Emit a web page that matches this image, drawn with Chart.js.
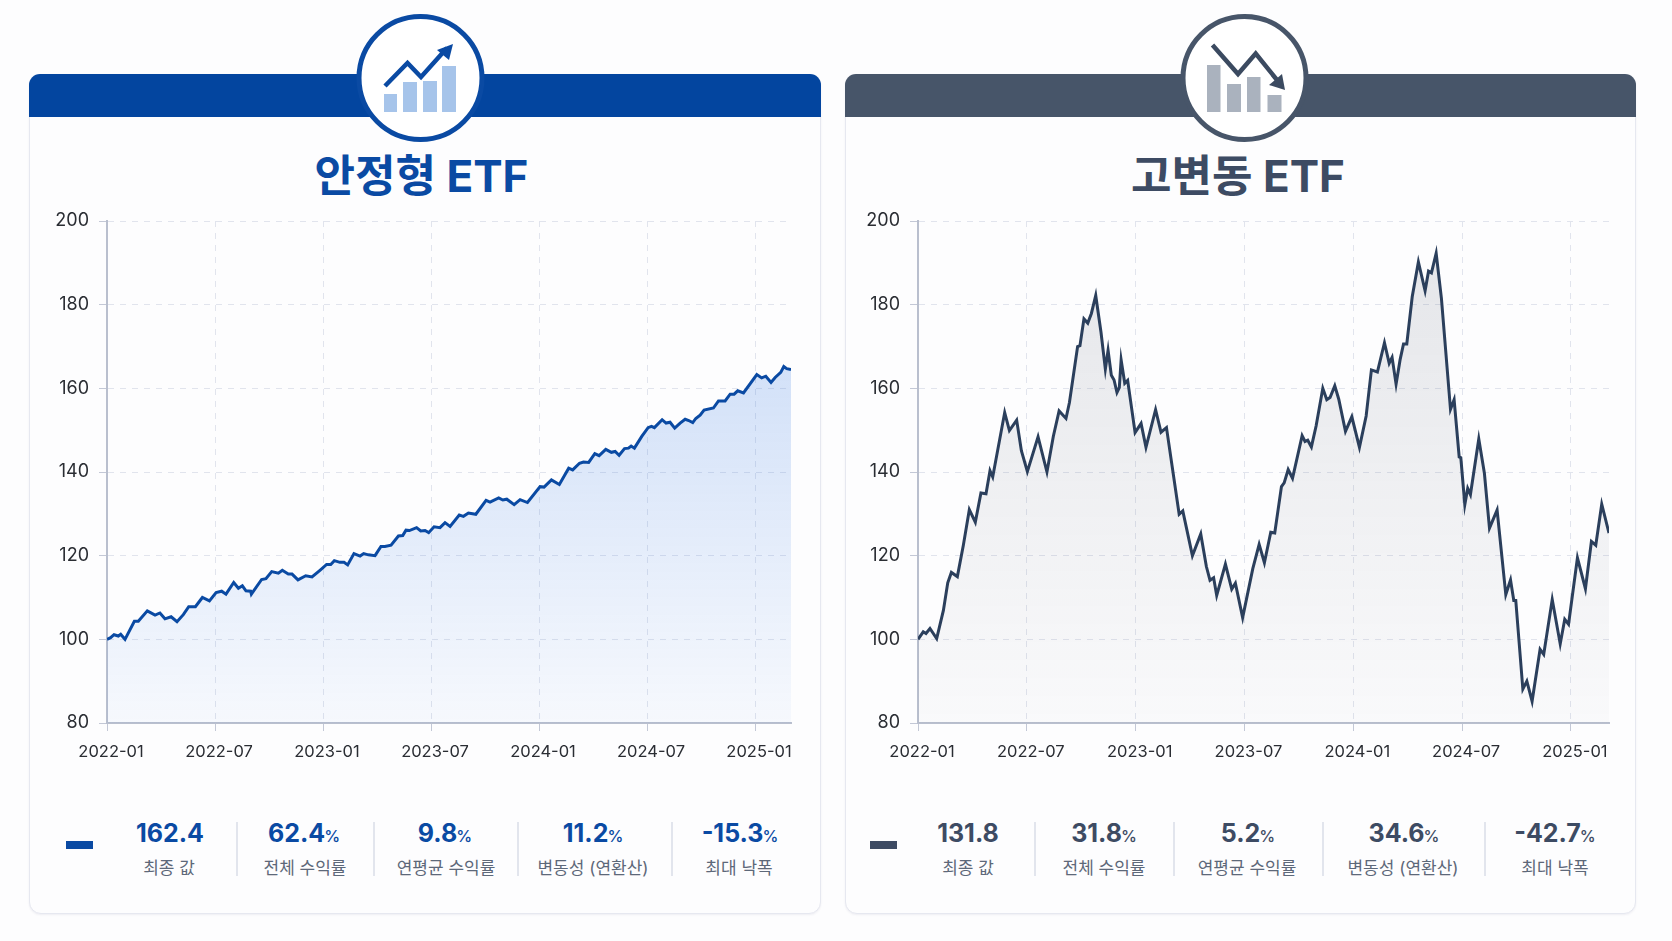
<!DOCTYPE html>
<html lang="ko">
  <head>
    <meta charset="UTF-8" />
    <title>안정형 ETF vs 고변동 ETF</title>
    <script src="https://cdn.jsdelivr.net/npm/chart.js@4/dist/chart.umd.min.js"></script>
    <style>
      html, body { margin: 0; padding: 0; background: #fdfdfe; }
      body { width: 1672px; height: 941px; position: relative; overflow: hidden; font-family: Inter, "Noto Sans CJK KR", sans-serif; }
      .card { position: absolute; top: 74px; height: 840px; box-sizing: border-box; background: #fdfdfe; border: 1.5px solid #e6e8f0; border-radius: 12px; box-shadow: 0 1px 2px rgba(60, 70, 110, 0.08); }
      .band { position: absolute; top: 74px; height: 43px; border-radius: 11px 11px 0 0; }
      .title { position: absolute; top: 148px; width: 500px; text-align: center; font-size: 44px; font-weight: 700; line-height: 56px; }
      .holder { position: absolute; top: 200px; width: 790px; height: 560px; }
      .val { position: absolute; top: 817px; width: 130px; text-align: center; font-size: 25px; font-weight: 700; line-height: 32px; white-space: nowrap; }
      .val small { font-size: 16px; font-weight: 500; margin-left: -1px; }
      .lab { position: absolute; top: 856px; width: 150px; text-align: center; font-size: 17px; line-height: 24px; color: #5d6879; white-space: nowrap; }
      .sep { position: absolute; top: 822px; height: 54px; width: 1.5px; background: #e2e5ed; }
      .swatch { position: absolute; top: 841px; height: 8px; width: 27px; }
      svg { position: absolute; left: 0; top: 0; }
    </style>
  </head>
  <body>
    <div class="card" style="left: 29px; width: 792px"></div>
    <div class="card" style="left: 845px; width: 791px"></div>
    <div class="band" style="left: 29px; width: 792px; background: #03459f"></div>
    <div class="band" style="left: 845px; width: 791px; background: #475569"></div>

    <svg width="1672" height="160">
      <circle cx="420.5" cy="78" r="61.5" fill="#fff" stroke="#0a4aa3" stroke-width="5" />
      <g fill="#a6c4ea">
        <rect x="384" y="94" width="13" height="18" />
        <rect x="403" y="82" width="14" height="30" />
        <rect x="423" y="81" width="14" height="31" />
        <rect x="442" y="66" width="14" height="46" />
      </g>
      <polyline points="385,86 407.5,63 421,77 447,48" fill="none" stroke="#0a4aa3" stroke-width="4.5" />
      <polygon points="453,44 449,60 437,50" fill="#0a4aa3" />

      <circle cx="1244.5" cy="78" r="61.5" fill="#fff" stroke="#475569" stroke-width="5" />
      <g fill="#aab2be">
        <rect x="1207" y="65" width="13.5" height="47" />
        <rect x="1227" y="84" width="14" height="28" />
        <rect x="1247" y="77" width="13.5" height="35" />
        <rect x="1267.5" y="95" width="14" height="17" />
      </g>
      <polyline points="1212.5,45 1238,74 1255.7,53.5 1277,80" fill="none" stroke="#3b4a60" stroke-width="4.5" />
      <polygon points="1285,90 1269,85 1282,74" fill="#3b4a60" />
    </svg>

    <div class="title" style="left: 171.5px; color: #0a4aa3">안정형 ETF</div>
    <div class="title" style="left: 988px; color: #3d4b63">고변동 ETF</div>

    <div class="holder" style="left: 30px"><canvas id="stableChart"></canvas></div>
    <div class="holder" style="left: 846px"><canvas id="volatileChart"></canvas></div>

    <script>
      // x values are months since 2022-01
      const tickMonths = [0, 6, 12, 18, 24, 30, 36];
      const tickLabels = ["2022-01", "2022-07", "2023-01", "2023-07", "2024-01", "2024-07", "2025-01"];
      const yTicks = [80, 100, 120, 140, 160, 180, 200];

      const stableMonths = [
        0, 0.2, 0.39, 0.63, 0.76, 1, 1.52, 1.74, 2.24, 2.67, 2.94, 3.22, 3.56, 3.89, 4.24, 4.54, 4.91, 5.3, 5.69, 6.06,
        6.37, 6.61, 7.04, 7.3, 7.52, 7.72, 7.98, 8.02, 8.59, 8.83, 9.15, 9.52, 9.74, 10.07, 10.28, 10.61, 11.04, 11.39, 11.83, 12.2,
        12.43, 12.63, 12.94, 13.17, 13.37, 13.72, 14.06, 14.26, 14.52, 14.89, 15.22, 15.44, 15.78, 16.19, 16.43, 16.61, 16.8, 17.2, 17.43, 17.67,
        17.87, 18.17, 18.5, 18.78, 19.06, 19.57, 19.8, 20.08, 20.49, 21.06, 21.28, 21.76, 21.99, 22.21, 22.62, 22.95, 23.36, 24.06, 24.28, 24.69,
        25.13, 25.65, 25.87, 26.25, 26.47, 26.76, 27.1, 27.34, 27.71, 28.02, 28.23, 28.45, 28.75, 28.97, 29.12, 29.3, 29.71, 30.06, 30.25, 30.41,
        30.84, 31.06, 31.28, 31.54, 31.84, 32.12, 32.32, 32.54, 32.71, 32.95, 33.17, 33.69, 33.97, 34.34, 34.62, 34.84, 35.04, 35.36, 36.1, 36.37,
        36.6, 36.89, 37.12, 37.43, 37.6, 37.76, 38
      ];
      const stableValues = [
        100, 100.4, 101.1, 100.8, 101.2, 100, 104.3, 104.3, 106.8, 105.8, 106.3, 104.9, 105.4, 104.2, 105.9, 107.8, 107.8, 110, 109.2, 111.2,
        111.5, 110.8, 113.6, 112.2, 112.8, 111.6, 111.5, 110.8, 114.3, 114.5, 116.2, 115.8, 116.5, 115.6, 115.6, 114.2, 115.2, 114.9, 116.5, 117.9,
        117.9, 118.8, 118.4, 118.4, 117.8, 120.5, 119.9, 120.5, 120.2, 120, 122.2, 122.2, 122.5, 124.7, 124.8, 126.1, 126, 126.7, 125.9, 126,
        125.5, 126.9, 126.7, 127.9, 127, 129.7, 129.4, 130.2, 129.9, 133.2, 132.8, 133.8, 133.3, 133.5, 132.2, 133.4, 132.7, 136.5, 136.4, 138.1,
        137, 140.9, 140.5, 142.1, 142.4, 142.3, 144.4, 143.9, 145.4, 144.7, 144.9, 144, 145.6, 145.7, 146.2, 145.7, 148.5, 150.6, 150.9, 150.6,
        152.5, 151.7, 151.9, 150.5, 151.7, 152.6, 152.3, 151.8, 152.8, 153.6, 154.8, 155.3, 157, 157, 158.6, 158.6, 159.4, 158.9, 163.3, 162.5,
        162.9, 161.4, 162.6, 163.8, 165.2, 164.7, 164.5
      ];

      const volatileMonths = [
        0, 0.29, 0.44, 0.66, 1.03, 1.4, 1.64, 1.84, 2.17, 2.5, 2.83, 3.16, 3.47, 3.75, 3.97, 4.12, 4.78, 5.04, 5.44, 5.7,
        6.03, 6.62, 7.11, 7.46, 7.78, 8.16, 8.35, 8.8, 8.93, 9.15, 9.36, 9.56, 9.8, 10.09, 10.33, 10.48, 10.66, 10.81, 10.97, 11.1,
        11.2, 11.4, 11.56, 11.97, 12.3, 12.57, 13.1, 13.4, 13.7, 14.4, 14.6, 15.13, 15.59, 15.9, 16.1, 16.3, 16.47, 16.95, 17.3, 17.5,
        17.9, 18.46, 18.81, 19.1, 19.45, 19.67, 20.04, 20.19, 20.41, 20.65, 21.18, 21.34, 21.49, 21.69, 21.95, 22.32, 22.54, 22.72, 22.98, 23.2,
        23.57, 23.92, 24.34, 24.71, 25, 25.33, 25.72, 25.98, 26.14, 26.36, 26.58, 26.77, 26.95, 27.25, 27.59, 27.96, 28.15, 28.31, 28.57, 28.86,
        29.36, 29.56, 29.84, 29.93, 30.15, 30.31, 30.46, 30.92, 31.23, 31.51, 31.93, 32.41, 32.67, 32.85, 32.96, 33.35, 33.57, 33.86, 34.3, 34.5,
        34.97, 35.41, 35.66, 35.87, 36.36, 36.8, 37.13, 37.37, 37.7, 38.1
      ];
      const volatileValues = [
        100, 101.8, 101.4, 102.6, 100.2, 106.9, 113.5, 116, 115, 122.5, 131, 128, 135, 134.8, 140.3, 138.8, 154.2, 149.9, 152.4, 145.1,
        140.1, 148.4, 140, 148.5, 154.6, 152.8, 156.6, 170, 170.2, 176.6, 175.6, 177.9, 182.2, 173.4, 164.6, 169.1, 163.1, 162, 159, 160.2,
        166.8, 161.2, 161.9, 149.4, 151.6, 145.9, 154.9, 149.5, 150.6, 129.9, 130.7, 120, 125.2, 117.4, 114.1, 114.7, 110.5, 118, 112, 113.4,
        105.2, 116.9, 122.7, 118.3, 125.6, 125.4, 136.5, 137.4, 140.6, 138.5, 148.7, 147.3, 147.6, 146, 151, 160, 157.3, 157.8, 160.6, 157.4,
        149.7, 153.2, 145.9, 153.4, 164.4, 163.9, 170.9, 166, 167.4, 161, 166.8, 170.6, 170.6, 181.9, 190.2, 183.3, 188, 187.6, 192.3, 181.5,
        155, 157.3, 143.6, 143.4, 132.2, 136.1, 134.6, 147.9, 139.7, 126.6, 130.9, 110.7, 114.2, 109.3, 109.3, 88.1, 90, 85.2, 97.6, 96.4,
        109.5, 98.9, 104.8, 103.6, 119.5, 112.1, 123.4, 122.5, 132.3, 125.4
      ];

      const statNumbers = ["162.4", "62.4", "9.8", "11.2", "-15.3"];
      const statNumbers2 = ["131.8", "31.8", "5.2", "34.6", "-42.7"];
      const statUnits = ["", "%", "%", "%", "%"];
      const statLabels = ["최종 값", "전체 수익률", "연평균 수익률", "변동성 (연환산)", "최대 낙폭"];

      function addStats(numbers, centers, labelCenters, seps, swatchLeft, color) {
        numbers.forEach((num, i) => {
          const val = document.createElement("div");
          val.className = "val";
          val.style.left = centers[i] - 65 + "px";
          val.style.color = color;
          val.innerHTML = num + (statUnits[i] ? "<small>" + statUnits[i] + "</small>" : "");
          document.body.appendChild(val);

          const lab = document.createElement("div");
          lab.className = "lab";
          lab.style.left = labelCenters[i] - 75 + "px";
          lab.textContent = statLabels[i];
          document.body.appendChild(lab);
        });
        seps.forEach((x) => {
          const sep = document.createElement("div");
          sep.className = "sep";
          sep.style.left = x + "px";
          document.body.appendChild(sep);
        });
        const sw = document.createElement("div");
        sw.className = "swatch";
        sw.style.left = swatchLeft + "px";
        sw.style.background = color;
        document.body.appendChild(sw);
      }

      addStats(statNumbers, [170, 304, 445, 593, 740], [169, 305, 446, 593, 739], [236, 373, 517, 671], 66, "#0a4aa3");
      addStats(statNumbers2, [968, 1104, 1248, 1404, 1555], [968, 1104, 1247, 1403, 1555], [1034, 1173, 1322, 1484], 870, "#3d4b63");

      function fillFor(topColor, bottomColor) {
        return (context) => {
          const area = context.chart.chartArea;
          if (!area) return topColor;
          const g = context.chart.ctx.createLinearGradient(0, area.top, 0, area.bottom);
          g.addColorStop(0, topColor);
          g.addColorStop(1, bottomColor);
          return g;
        };
      }

      function makeChart(id, months, values, xMax, lineColor, topColor, bottomColor, rightPad, yWidth) {
        const ctx = document.getElementById(id).getContext("2d");
        return new Chart(ctx, {
          type: "line",
          data: {
            datasets: [
              {
                data: months.map((m, i) => ({ x: m, y: values[i] })),
                borderColor: lineColor,
                borderWidth: 3,
                pointRadius: 0,
                tension: 0,
                fill: "start",
                backgroundColor: fillFor(topColor, bottomColor),
              },
            ],
          },
          options: {
            responsive: true,
            maintainAspectRatio: false,
            animation: false,
            layout: { padding: { top: 21, right: rightPad, left: 0, bottom: 0 } },
            plugins: { legend: { display: false }, tooltip: { enabled: false } },
            scales: {
              x: {
                type: "linear",
                min: 0,
                max: xMax,
                afterBuildTicks: (scale) => {
                  scale.ticks = tickMonths.map((v) => ({ value: v }));
                },
                afterFit: (scale) => {
                  scale.height = 37;
                },
                ticks: {
                  autoSkip: false,
                  maxRotation: 0,
                  padding: 11,
                  labelOffset: 4,
                  color: "#2a2d33",
                  font: { family: "Inter", size: 16.5 },
                  callback: (value) => tickLabels[tickMonths.indexOf(value)],
                },
                grid: { color: "#e1e4ed", tickColor: "#c3c8d6", tickLength: 8 },
                border: { color: "#b9bfce", width: 2, dash: [6, 6] },
              },
              y: {
                min: 80,
                max: 200,
                afterBuildTicks: (scale) => {
                  scale.ticks = yTicks.map((v) => ({ value: v }));
                },
                afterFit: (scale) => {
                  scale.width = yWidth;
                },
                ticks: {
                  padding: 10,
                  color: "#2a2d33",
                  font: { family: "Inter", size: 18 },
                },
                grid: { color: "#e1e4ed", tickColor: "#c3c8d6", tickLength: 8 },
                border: { color: "#b9bfce", width: 2, dash: [6, 6] },
              },
            },
          },
        });
      }

      makeChart("stableChart", stableMonths, stableValues, 38, "#0a4aa3", "rgba(35, 110, 225, 0.26)", "rgba(35, 110, 225, 0.03)", 29, 77);
      makeChart("volatileChart", volatileMonths, volatileValues, 38.1, "#2b3f5c", "rgba(60, 70, 90, 0.13)", "rgba(60, 70, 90, 0.02)", 27, 72);
    </script>
  </body>
</html>
